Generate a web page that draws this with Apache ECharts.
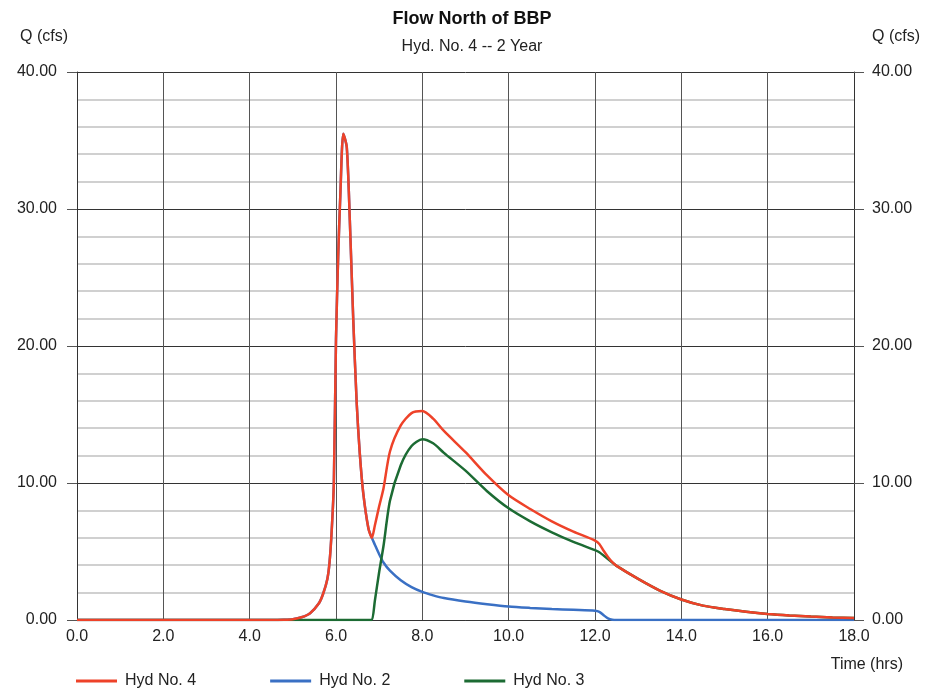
<!DOCTYPE html>
<html>
<head>
<meta charset="utf-8">
<script src="https://cdn.jsdelivr.net/npm/echarts@6/dist/echarts.min.js"></script>
<style>
  html, body { margin: 0; padding: 0; background: #fff; }
  #chart { width: 944px; height: 693px; }
</style>
</head>
<body>
<div id="chart"></div>
<script>
// time (hrs)
const hours = [0, 4.5, 4.8, 5.0, 5.2, 5.4, 5.6, 5.7, 5.8, 5.85, 5.9, 5.95, 6.0, 6.05, 6.1, 6.17, 6.25, 6.32, 6.4, 6.48, 6.55, 6.63, 6.75, 6.83, 6.9, 7.0, 7.1, 7.25, 7.5, 7.75, 8.0, 8.25, 8.5, 9.0, 9.5, 10.0, 10.5, 11.0, 11.5, 12.0, 12.1, 12.2, 12.3, 12.4, 12.5, 13.0, 13.5, 14.0, 14.5, 15.0, 15.5, 16.0, 16.5, 17.0, 17.5, 18.0];

// Q (cfs)
const hyd2 = [0, 0, 0.02, 0.06, 0.2, 0.5, 1.2, 1.9, 3.0, 4.2, 6.5, 10.0, 20.5, 26.5, 31.0, 35.5, 34.5, 29.2, 21.9, 15.8, 12.2, 9.3, 6.7, 6.0, 5.5, 4.8, 4.2, 3.6, 2.9, 2.4, 2.05, 1.8, 1.6, 1.35, 1.15, 0.98, 0.88, 0.8, 0.74, 0.68, 0.6, 0.35, 0.12, 0.02, 0, 0, 0, 0, 0, 0, 0, 0, 0, 0, 0, 0];
const hyd3 = [0, 0, 0, 0, 0, 0, 0, 0, 0, 0, 0, 0, 0, 0, 0, 0, 0, 0, 0, 0, 0, 0, 0, 0, 1.4, 3.5, 5.4, 8.7, 11.3, 12.7, 13.2, 12.9, 12.2, 10.9, 9.4, 8.15, 7.2, 6.4, 5.7, 5.1, 4.95, 4.7, 4.45, 4.2, 3.95, 3.0, 2.15, 1.5, 1.05, 0.8, 0.6, 0.44, 0.33, 0.25, 0.19, 0.15];
const hyd4 = [0, 0, 0.02, 0.06, 0.2, 0.5, 1.2, 1.9, 3.0, 4.2, 6.5, 10.0, 20.5, 26.5, 31.0, 35.5, 34.5, 29.2, 21.9, 15.8, 12.2, 9.3, 6.7, 6.0, 6.9, 8.3, 9.6, 12.3, 14.2, 15.1, 15.25, 14.7, 13.8, 12.25, 10.55, 9.1, 8.1, 7.2, 6.45, 5.8, 5.55, 5.05, 4.6, 4.22, 3.95, 3.0, 2.15, 1.5, 1.05, 0.8, 0.6, 0.44, 0.33, 0.25, 0.19, 0.15];

function pairs(vals) {
  return hours.map((t, i) => [t, vals[i]]);
}

let myChart = echarts.init(document.getElementById('chart'));

const font = 'Liberation Sans, Arial, sans-serif';
const yAxisBase = {
  type: 'value',
  min: 0,
  max: 40,
  interval: 10,
  axisLine: { show: true, lineStyle: { color: '#333', width: 1 } },
  axisTick: { show: true, length: 10, lineStyle: { color: '#555' } },
  axisLabel: { color: '#222', fontSize: 16, fontFamily: font, margin: 20, formatter: v => v.toFixed(2) },
  splitLine: { show: true, lineStyle: { color: '#333', width: 1 } },
  minorTick: { show: false, splitNumber: 5 },
  minorSplitLine: { show: true, lineStyle: { color: '#d0d0d0', width: 2 } }
};

// line look shared by the three hydrographs
function hydSeries(name, vals, color, z) {
  return {
    name: name, type: 'line', data: pairs(vals), showSymbol: false,
    smooth: 0.25, color: color, lineStyle: { width: 2.5, color: color }, z: z
  };
}

myChart.setOption({
  animation: false,
  backgroundColor: '#fff',
  textStyle: { fontFamily: font },
  title: [
    { text: 'Flow North of BBP', left: 'center', top: 5, textStyle: { fontSize: 18, fontWeight: 'bold', color: '#111', fontFamily: font } },
    { text: 'Hyd. No. 4 -- 2 Year', left: 'center', top: 34, textStyle: { fontSize: 16, fontWeight: 'normal', color: '#222', fontFamily: font } }
  ],
  graphic: [
    { type: 'text', left: 20, top: 29, style: { text: 'Q (cfs)', fontSize: 16, fontFamily: font, fill: '#222' } },
    { type: 'text', right: 24, top: 29, style: { text: 'Q (cfs)', fontSize: 16, fontFamily: font, fill: '#222' } },
    { type: 'text', right: 41, top: 657, style: { text: 'Time (hrs)', fontSize: 16, fontFamily: font, fill: '#222' } }
  ],
  legend: {
    left: 71,
    top: 668,
    icon: 'rect',
    itemWidth: 41,
    itemHeight: 3,
    itemGap: 74,
    data: ['Hyd No. 4', 'Hyd No. 2', 'Hyd No. 3'],
    textStyle: { fontSize: 16, fontFamily: font, color: '#222', padding: [0, 0, 0, 3] }
  },
  grid: { left: 77, right: 90, top: 72, bottom: 73, containLabel: false },
  xAxis: {
    type: 'value',
    min: 0,
    max: 18,
    interval: 2,
    axisLine: { show: true, onZero: false, lineStyle: { color: '#333' } },
    axisTick: { show: false },
    axisLabel: { color: '#222', fontSize: 16, fontFamily: font, margin: 9, formatter: v => v.toFixed(1) },
    splitLine: { show: true, lineStyle: { color: '#555', width: 1 } }
  },
  yAxis: [
    Object.assign({}, yAxisBase, { position: 'left' }),
    Object.assign({}, yAxisBase, {
      position: 'right',
      axisLabel: Object.assign({}, yAxisBase.axisLabel, { margin: 18 }),
      splitLine: { show: false },
      minorSplitLine: { show: false }
    })
  ],
  series: [
    hydSeries('Hyd No. 2', hyd2, '#3a70c4', 2),
    hydSeries('Hyd No. 3', hyd3, '#1c6b33', 3),
    hydSeries('Hyd No. 4', hyd4, '#ee4229', 4)
  ]
});
</script>
</body>
</html>
